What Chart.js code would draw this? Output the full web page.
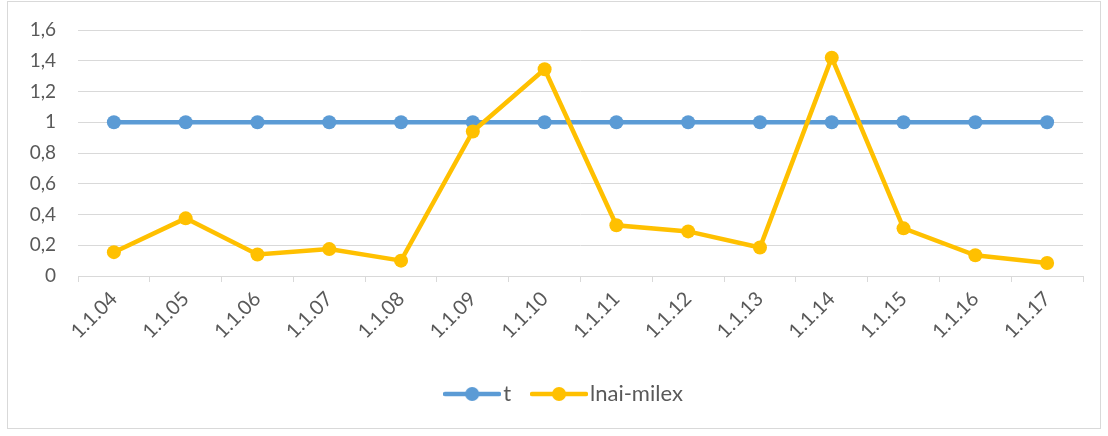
<!DOCTYPE html>
<html>
<head>
<meta charset="utf-8">
<script src="https://cdn.jsdelivr.net/npm/chart.js@4.4.1/dist/chart.umd.min.js"></script>
<style>
    html, body { margin: 0; padding: 0; background: #ffffff; }
    #wrap { position: relative; width: 1108px; height: 436px; }
    #frame { position: absolute; left: 7px; top: 1px; width: 1092px; height: 426px; border: 1px solid #d9d9d9; }
    #chart { position: absolute; left: 0; top: 0; }
</style>
</head>
<body>
<div id="wrap">
    <div id="frame"></div>
    <canvas id="chart" width="1108" height="436"></canvas>
</div>
<script>
// categories and series
const categories = ['1.1.04', '1.1.05', '1.1.06', '1.1.07', '1.1.08', '1.1.09', '1.1.10',
                    '1.1.11', '1.1.12', '1.1.13', '1.1.14', '1.1.15', '1.1.16', '1.1.17'];
const tValues = [1, 1, 1, 1, 1, 1, 1, 1, 1, 1, 1, 1, 1, 1];
const milexValues = [0.155, 0.375, 0.14, 0.175, 0.1, 0.94, 1.345, 0.33, 0.29, 0.185, 1.42, 0.31, 0.135, 0.085];
const yTickLabels = ['0', '0,2', '0,4', '0,6', '0,8', '1', '1,2', '1,4', '1,6'];

const blue = '#5b9bd5';
const yellow = '#ffc000';
const textColor = '#595959';
const gridColor = '#d9d9d9';
const fontFamily = 'Lato, "Open Sans", sans-serif';

// legend marker: short line with a dot in the middle
function legendMarker(color) {
    const c = document.createElement('canvas');
    c.width = 58;
    c.height = 16;
    const g = c.getContext('2d');
    g.strokeStyle = color;
    g.lineWidth = 4.5;
    g.lineCap = 'round';
    g.beginPath();
    g.moveTo(2, 8);
    g.lineTo(56, 8);
    g.stroke();
    g.fillStyle = color;
    g.beginPath();
    g.arc(29, 8, 7, 0, Math.PI * 2);
    g.fill();
    return c;
}
const markers = [legendMarker(blue), legendMarker(yellow)];

// nudge the legend a bit to the right, like the excel original
const legendShift = {
    id: 'legendShift',
    afterLayout(chart) {
        chart.legend.left += 26;
        chart.legend.right += 26;
    }
};

const ctx = document.getElementById('chart').getContext('2d');
const chart = new Chart(ctx, {
    type: 'line',
    data: {
        labels: categories,
        datasets: [{
            label: 't',
            data: tValues,
            borderColor: blue,
            backgroundColor: blue,
            borderWidth: 4.5,
            pointRadius: 7,
            pointHoverRadius: 7,
            pointBorderWidth: 0,
            tension: 0,
            order: 1
        }, {
            label: 'lnai-milex',
            data: milexValues,
            borderColor: yellow,
            backgroundColor: yellow,
            borderWidth: 4.5,
            pointRadius: 7,
            pointHoverRadius: 7,
            pointBorderWidth: 0,
            tension: 0,
            order: 0
        }]
    },
    options: {
        responsive: false,
        animation: false,
        layout: {
            padding: { left: 0, right: 25, top: 30, bottom: 21 }
        },
        scales: {
            x: {
                offset: true,
                grid: {
                    offset: true,
                    drawOnChartArea: false,
                    color: gridColor,
                    tickLength: 6
                },
                border: { color: gridColor, width: 1 },
                ticks: {
                    color: textColor,
                    font: { family: fontFamily, size: 20 },
                    minRotation: 45,
                    maxRotation: 45,
                    padding: 5
                },
                afterFit: function(scale) { scale.height = 79; }
            },
            y: {
                min: 0,
                max: 1.6,
                grid: {
                    color: gridColor,
                    tickLength: 0
                },
                border: { display: false },
                ticks: {
                    stepSize: 0.2,
                    color: textColor,
                    font: { family: fontFamily, size: 19 },
                    padding: 22,
                    callback: function(value, index) { return yTickLabels[index]; }
                },
                afterFit: function(scale) {
                    scale.width = 78;
                    scale.paddingTop = 0;
                    scale.paddingBottom = 0;
                }
            }
        },
        plugins: {
            legend: {
                position: 'bottom',
                labels: {
                    color: textColor,
                    font: { family: fontFamily, size: 22 },
                    usePointStyle: true,
                    pointStyleWidth: 40,
                    padding: 28,
                    generateLabels: function(ch) {
                        return ch.data.datasets.map((ds, i) => ({
                            text: ds.label,
                            fontColor: textColor,
                            pointStyle: markers[i],
                            datasetIndex: i,
                            hidden: false,
                            lineWidth: 0,
                            strokeStyle: ds.borderColor,
                            fillStyle: ds.backgroundColor
                        }));
                    }
                }
            },
            tooltip: { enabled: false }
        }
    },
    plugins: [legendShift]
});
</script>
</body>
</html>
